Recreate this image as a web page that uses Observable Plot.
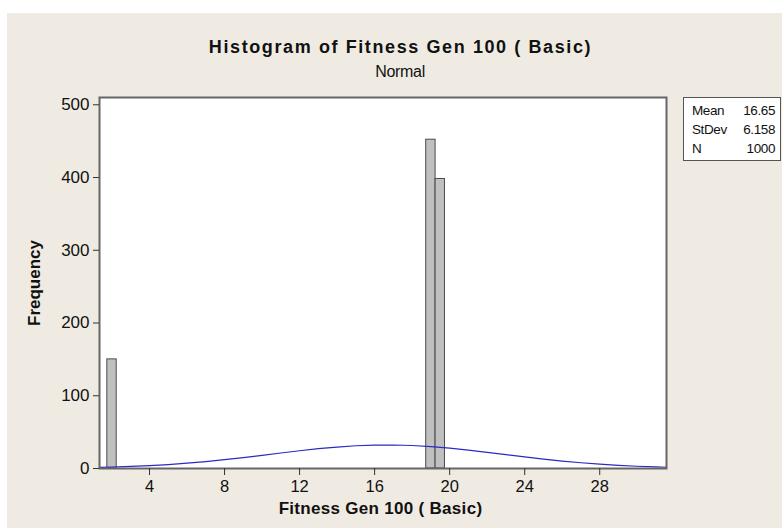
<!DOCTYPE html>
<html>
<head>
<meta charset="utf-8">
<script src="https://cdn.jsdelivr.net/npm/d3@7"></script>
<script src="https://cdn.jsdelivr.net/npm/@observablehq/plot@0.6"></script>
<style>
  html, body { margin: 0; padding: 0; background: #fff; }
  #wrap { position: relative; width: 782px; height: 528px; overflow: hidden; }
  #panel { position: absolute; left: 7px; top: 13px; right: 0; bottom: 0; background: #efebe2; }
  #chart { position: absolute; left: 0; top: 0; }
  #stats {
    position: absolute; left: 683px; top: 97px; width: 98px; height: 64px;
    box-sizing: border-box; border: 1.5px solid #555; background: #fff;
    padding-top: 3px;
    font: 13.5px "Liberation Sans", Arial, sans-serif; color: #111; letter-spacing: -0.4px;
  }
  #stats .row { position: relative; height: 19px; line-height: 19px; }
  #stats .lab { position: absolute; left: 8px; }
  #stats .val { position: absolute; right: 5px; }
</style>
</head>
<body>
<div id="wrap">
  <div id="panel"></div>
  <div id="chart"></div>
  <div id="stats"></div>
</div>
<script>
// Histogram bins (midpoints, width 0.5) and their counts
const binMids = [2, 19, 19.5];
const binCounts = [150, 452, 398];
const binWidth = 0.5;

// Fitted normal curve, sampled across the plotted range (frequency scale)
const curveX = [1.33, 2, 3, 4, 5, 6, 7, 8, 9, 10, 11, 12, 13, 14, 15, 16, 17, 18, 19, 20,
                21, 22, 23, 24, 25, 26, 27, 28, 29, 30, 31, 31.56];
const curveY = [1.5, 1.9, 2.8, 3.9, 5.4, 7.3, 9.5, 12.1, 15.0, 18.1, 21.3, 24.4, 27.2, 29.5, 31.3, 32.2,
                32.3, 31.6, 30.1, 27.9, 25.2, 22.2, 19.0, 15.9, 12.9, 10.2, 7.9, 5.9, 4.3, 3.1, 2.1, 1.7];

// Axis ticks
const xTicks = [4, 8, 12, 16, 20, 24, 28];
const yTicks = [0, 100, 200, 300, 400, 500];

// Summary statistics
const statLabels = ["Mean", "StDev", "N"];
const statValues = ["16.65", "6.158", "1000"];

const titleText = "Histogram of Fitness Gen 100 ( Basic)";
const subtitleText = "Normal";
const xLabel = "Fitness Gen 100 ( Basic)";
const yLabel = "Frequency";

const bins = binMids.map((m, i) => ({x1: m - binWidth / 2, x2: m + binWidth / 2, count: binCounts[i]}));
const curve = curveX.map((x, i) => ({x, y: curveY[i]}));

const chart = Plot.plot({
  width: 782,
  height: 528,
  marginLeft: 99,
  marginRight: 116,
  marginTop: 97,
  marginBottom: 60,
  style: {background: "transparent", fontFamily: "'Liberation Sans', Arial, sans-serif", color: "#111"},
  x: {domain: [1.333, 31.56]},
  y: {domain: [0, 510]},
  marks: [
    Plot.frame({fill: "#fff", stroke: "none"}),
    Plot.rectY(bins, {x1: "x1", x2: "x2", y: "count", fill: "#c0c0c0", stroke: "#4a4a4a", strokeWidth: 1}),
    Plot.line(curve, {x: "x", y: "y", stroke: "#2a2ac4", strokeWidth: 1.2}),
    Plot.frame({stroke: "#666", strokeWidth: 2}),
    Plot.axisX({ticks: xTicks, tickSize: 7, tickPadding: 5, fontSize: 16.5, label: null, stroke: "#333"}),
    Plot.axisY({ticks: yTicks, tickSize: 6, tickPadding: 4, fontSize: 17, label: null, stroke: "#333"}),
    Plot.text([titleText], {frameAnchor: "top", lineAnchor: "middle", dx: 17.5, dy: -50, fontSize: 18, fontWeight: "bold"}),
    Plot.text([subtitleText], {frameAnchor: "top", lineAnchor: "middle", dx: 17, dy: -26, fontSize: 16}),
    Plot.text([xLabel], {frameAnchor: "bottom", lineAnchor: "middle", dx: -2.5, dy: 40, fontSize: 17, fontWeight: "bold"}),
    Plot.text([yLabel], {frameAnchor: "left", textAnchor: "middle", lineAnchor: "middle", dx: -65, rotate: -90, fontSize: 17, fontWeight: "bold"})
  ]
});

// Letter spacing for the title, subtitle and x label text marks (in mark order)
const textGroups = chart.querySelectorAll('g[aria-label="text"]');
const spacing = ["1.6px", "-0.3px", "0.3px", "0px"];
textGroups.forEach((g, i) => { if (spacing[i]) g.style.letterSpacing = spacing[i]; });
document.getElementById("chart").appendChild(chart);

// Statistics box beside the plot
const stats = d3.select("#stats");
statLabels.forEach((lab, i) => {
  const row = stats.append("div").attr("class", "row");
  row.append("span").attr("class", "lab").text(lab);
  row.append("span").attr("class", "val").text(statValues[i]);
});
</script>
</body>
</html>
